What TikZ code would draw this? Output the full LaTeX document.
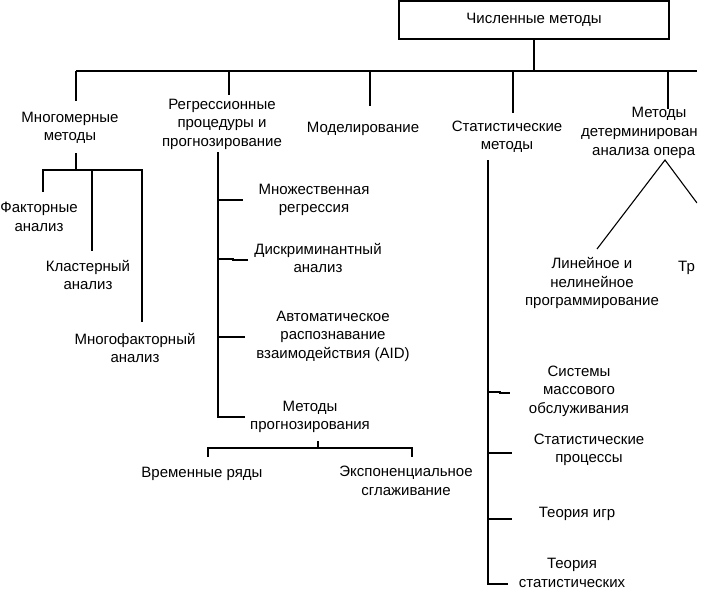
\documentclass[tikz,border=0pt]{standalone}
\usepackage{fontspec}
\setmainfont{Liberation Sans}
\begin{document}
\begin{tikzpicture}[x=1pt,y=-1pt,
  txt/.style={font=\fontsize{15}{18.5}\selectfont, align=center, inner sep=0pt},
  thinln/.style={line width=1.1pt},
  thickln/.style={line width=2pt},
  rootbox/.style={draw, line width=1.1pt, minimum width=270pt, minimum height=38pt, inner sep=0pt, font=\fontsize{15}{18.5}\selectfont}]
\useasboundingbox (0,0) rectangle (720,590);
\begin{scope}
\clip (0,0) rectangle (697,590);
% root
\node[rootbox] (root) at (534,20) {Численные методы};
% level 1 texts
\node[txt] (mm) at (70,128) {Многомерные\\методы};
\node[txt] (reg) at (222,124) {Регрессионные\\процедуры и\\прогнозирование};
\node[txt] (mod) at (363,129) {Моделирование};
\node[txt] (stat) at (507,137) {Статистические\\методы};
\node[txt] (det1) at (659,114) {Методы};
\node[txt, anchor=west] (det2) at (581,134) {детерминирован};
\node[txt, anchor=west] (det3) at (592,153) {анализа опера};
% multivariate
\node[txt] (fa) at (39,217) {Факторные\\анализ};
\node[txt] (kl) at (88,275) {Кластерный\\анализ};
\node[txt] (mf) at (135,348) {Многофакторный\\анализ};
% regression
\node[txt] (mr) at (314,200) {Множественная\\регрессия};
\node[txt] (da) at (318,258) {Дискриминантный\\анализ};
\node[txt] (aid) at (333,336) {Автоматическое\\распознавание\\взаимодействия (AID)};
\node[txt] (mp) at (310,417) {Методы\\прогнозирования};
\node[txt] (vr) at (202,474) {Временные ряды};
\node[txt] (ex) at (406,481) {Экспоненциальное\\сглаживание};
% statistics
\node[txt] (smo) at (579,391) {Системы\\массового\\обслуживания};
\node[txt] (sp) at (589,450) {Статистические\\процессы};
\node[txt] (ti) at (577,514) {Теория игр};
\node[txt] (ts) at (572,573) {Теория\\статистических};
% operations research
\node[txt] (lp) at (592,283) {Линейное и\\нелинейное\\программирование};
\node[txt, anchor=west] (tr) at (678,268) {Тр};
% junction coordinates
\coordinate (barL) at (76,71);
\coordinate (barR) at (697,71);
\coordinate (jroot) at (534,71);
% top bar and drops
\draw[line width=1.3pt] (barL) -- (barR);
\draw[thinln] (root.south) -- (jroot);
\draw[thinln] (barL) -- (76,101);
\draw[thinln] (229,71) -- (229,95);
\draw[thinln] (370,71) -- (370,106);
\draw[thickln] (513,71) -- (513,113);
\draw[thinln] (668,71) -- (668,109);
% multivariate subtree
\coordinate (mmj) at (76,170);
\draw[thickln] (76,153) -- (mmj);
\draw[thickln] (43,192) -- (43,170) -- (142,170) -- (142,322);
\draw[thickln] (92,170) -- (92,251);
% regression subtree
\draw[thinln] (218,152) -- (218,417) -- (245,417);
\draw[thinln] (218,200) -- (243,200);
\draw[thinln] (218,259) -- (233,259) -- (233,260) -- (248,260);
\draw[thinln] (218,337) -- (245,337);
% forecasting subtree
\draw[thinln] (318,441) -- (318,448);
\draw[thinln] (208,457) -- (208,448) -- (412,448) -- (412,457);
% statistics trunk
\draw[thickln] (488,160) -- (488,584) -- (508,584);
\draw[thinln] (488,392) -- (500,392) -- (500,393) -- (510,393);
\draw[thinln] (488,453) -- (512,453);
\draw[thinln] (488,519) -- (512,519);
% operations research
\coordinate (apex) at (665,160);
\draw[thinln] (597,249) -- (apex) -- (697,203);
\end{scope}
\end{tikzpicture}
\end{document}
